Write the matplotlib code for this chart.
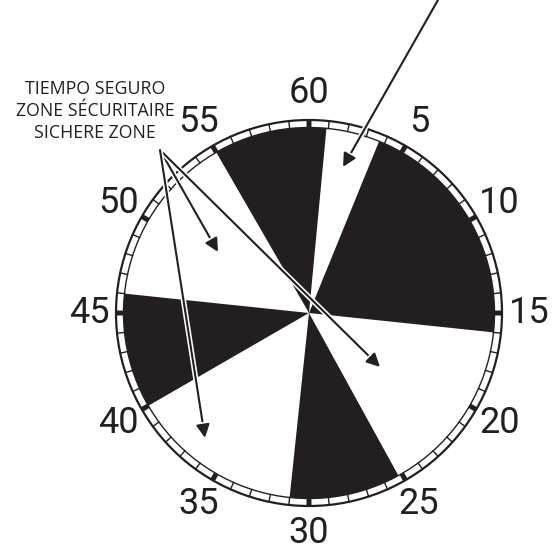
import numpy as np
import matplotlib.pyplot as plt
from matplotlib.patches import Wedge, Circle
import matplotlib.patheffects as pe

# black sectors of the dial, in minutes (clockwise from 60 at the top)
black_start = [55.0, 3.7, 25.2, 40.0]
black_end = [60.9, 16.0, 31.0, 46.0]

minute_labels = [60, 5, 10, 15, 20, 25, 30, 35, 40, 45, 50, 55]
note_lines = ["TIEMPO SEGURO", "ZONE SÉCURITAIRE", "SICHERE ZONE"]

W, H = 559, 548
cx, cy = 309, H - 313   # dial centre in pixel units (y up)
r_out = 193
r_in = 185.5
r_lab = 220

def ang(m):
    #clock minutes -> matplotlib angle in degrees
    return 90 - 6 * m

def pt(px, py):
    #image pixel coordinates (y down) -> axes coords
    return (px, H - py)

fig = plt.figure(figsize=(W / 100, H / 100), dpi=100)
ax = fig.add_axes([0, 0, 1, 1])
ax.set_xlim(0, W)
ax.set_ylim(0, H)
ax.set_aspect("equal")
ax.axis("off")

dark = "#231f20"

#sectors
for s, e in zip(black_start, black_end):
    ax.add_patch(Wedge((cx, cy), r_in, ang(e), ang(s), facecolor=dark, edgecolor="none", zorder=1))

#ring with minute ticks
ax.add_patch(Circle((cx, cy), r_out, fill=False, edgecolor=dark, lw=1.6, zorder=3))
ax.add_patch(Circle((cx, cy), r_in, fill=False, edgecolor=dark, lw=1.0, zorder=3))
for m in range(60):
    a = np.radians(ang(m))
    if m % 5 == 0:
        ax.add_patch(Wedge((cx, cy), r_out, ang(m) - 0.75, ang(m) + 0.75, width=r_out - r_in,
                           facecolor=dark, edgecolor="none", zorder=3))
    else:
        ax.plot([cx + r_in * np.cos(a), cx + r_out * np.cos(a)],
                [cy + r_in * np.sin(a), cy + r_out * np.sin(a)], color=dark, lw=1.0, zorder=3)

#minute numbers
for lab in minute_labels:
    a = np.radians(ang(lab % 60))
    ax.text(cx + r_lab * np.cos(a), cy + r_lab * np.sin(a), str(lab), fontsize=26,
            family="Roboto", color=dark, ha="center", va="center", zorder=4)

#arrows with white halo
halo = [pe.Stroke(linewidth=3.8, foreground="white"), pe.Normal()]
def arrow(p0, p1):
    ax.annotate("", xy=pt(*p1), xytext=pt(*p0),
                arrowprops=dict(arrowstyle="-|>", color=dark, lw=1.5, mutation_scale=20,
                                shrinkA=0, shrinkB=0, path_effects=halo), zorder=5)

arrow((160, 150), (218, 252))
arrow((160, 150), (380, 367))
arrow((160, 150), (205, 438))
arrow((438, 0), (343, 167))

#zone note
ax.text(95, H - 111, "\n".join(note_lines), fontsize=12.8, family="Open Sans", color=dark,
        ha="center", va="center", linespacing=1.25, zorder=6)

fig.savefig("out.png", dpi=100)
